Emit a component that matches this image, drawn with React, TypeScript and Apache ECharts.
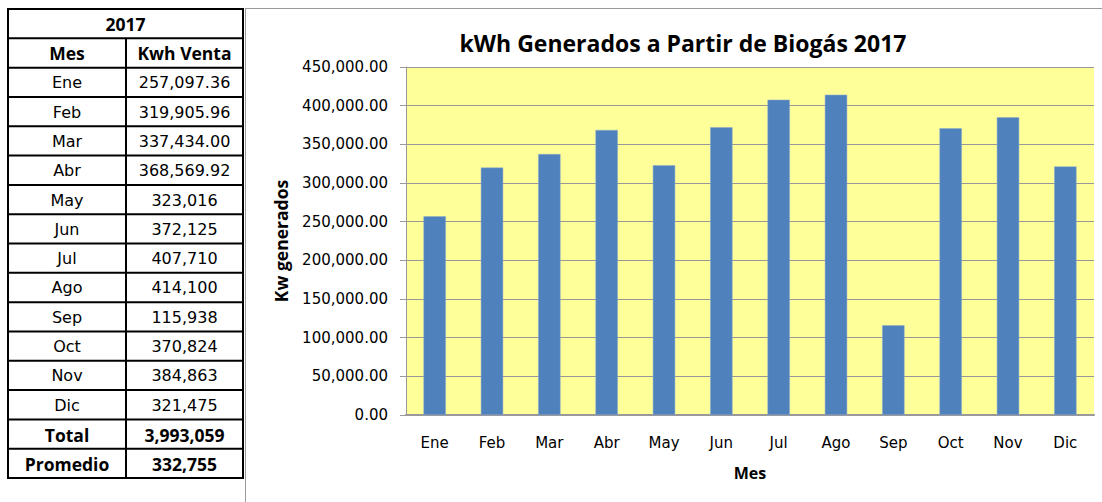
import React, { useEffect, useRef } from "react";
import * as echarts from "echarts";

const months = ["Ene", "Feb", "Mar", "Abr", "May", "Jun", "Jul", "Ago", "Sep", "Oct", "Nov", "Dic"];
const kwhVenta = [257097.36, 319905.96, 337434.0, 368569.92, 323016, 372125, 407710, 414100, 115938, 370824, 384863, 321475];
const tableDecimals = [2, 2, 2, 2, 0, 0, 0, 0, 0, 0, 0, 0];
const tableTotal = 3993059;
const tablePromedio = 332755;
const yearLabel = "2017";
const chartTitle = "kWh Generados a Partir de Biogás 2017";

const fmt = (v: number, d: number) =>
  v.toLocaleString("en-US", { minimumFractionDigits: d, maximumFractionDigits: d });

export default function App() {
  const ref = useRef<HTMLDivElement>(null);
  useEffect(() => {
    document.body.style.margin = "0";
    const chart = echarts.init(ref.current!, null, { renderer: "svg" });

    const tL = 8, tR = 243, tM = 126, tTop = 9, tBot = 478;
    const rowH = (tBot - tTop) / 16;
    const g: any[] = [];
    const lineStyle = { stroke: "#000", lineWidth: 2 };
    for (let i = 0; i <= 16; i++) {
      const y = tTop + i * rowH;
      g.push({ type: "line", shape: { x1: tL, y1: y, x2: tR, y2: y }, style: lineStyle });
    }
    g.push({ type: "line", shape: { x1: tL, y1: tTop - 1, x2: tL, y2: tBot + 1 }, style: lineStyle });
    g.push({ type: "line", shape: { x1: tR, y1: tTop - 1, x2: tR, y2: tBot + 1 }, style: lineStyle });
    g.push({ type: "line", shape: { x1: tM, y1: tTop + rowH, x2: tM, y2: tBot }, style: lineStyle });
    // chart area frame
    g.push({ type: "line", shape: { x1: 245.5, y1: 8, x2: 245.5, y2: 502 }, style: { stroke: "#9a9a9a", lineWidth: 1 } });
    g.push({ type: "line", shape: { x1: 245, y1: 8.5, x2: 1102, y2: 8.5 }, style: { stroke: "#9a9a9a", lineWidth: 1 } });

    const c1 = (tL + tM) / 2, c2 = (tM + tR) / 2;
    const txt = (x: number, row: number, text: string, bold: boolean) => ({
      type: "text",
      x,
      y: tTop + (row + 0.5) * rowH + 0.5,
      style: {
        text,
        align: "center",
        verticalAlign: "middle",
        fill: "#000",
        font: bold ? "bold 17.5px 'Open Sans'" : "16px 'DejaVu Sans'",
      },
    });
    g.push(txt((tL + tR) / 2, 0, yearLabel, true));
    g.push(txt(c1, 1, "Mes", true));
    g.push(txt(c2, 1, "Kwh Venta", true));
    months.forEach((m, i) => {
      g.push(txt(c1, i + 2, m, false));
      g.push(txt(c2, i + 2, fmt(kwhVenta[i], tableDecimals[i]), false));
    });
    g.push(txt(c1, 14, "Total", true));
    g.push(txt(c2, 14, fmt(tableTotal, 0), true));
    g.push(txt(c1, 15, "Promedio", true));
    g.push(txt(c2, 15, fmt(tablePromedio, 0), true));

    chart.setOption({
      animation: false,
      backgroundColor: "#fff",
      title: {
        text: chartTitle,
        left: 678,
        top: 38,
        textAlign: "center",
        textVerticalAlign: "middle",
        textStyle: { fontFamily: "Open Sans", fontWeight: "bold", fontSize: 23, color: "#000" },
      },
      grid: {
        left: 406,
        right: 8,
        top: 67,
        bottom: 87,
        show: true,
        backgroundColor: "#FFFF99",
        borderWidth: 0,
      },
      xAxis: {
        type: "category",
        data: months,
        name: "Mes",
        nameLocation: "middle",
        nameGap: 50,
        nameTextStyle: { fontFamily: "Open Sans", fontWeight: "bold", fontSize: 16, color: "#000" },
        axisLine: { lineStyle: { color: "#999", width: 2 } },
        axisTick: { show: false },
        axisLabel: { fontFamily: "DejaVu Sans", fontSize: 15, color: "#000", margin: 20 },
      },
      yAxis: {
        type: "value",
        min: 0,
        max: 450000,
        interval: 50000,
        name: "Kw generados",
        nameLocation: "middle",
        nameGap: 116,
        nameRotate: 90,
        nameTextStyle: { fontFamily: "Open Sans", fontWeight: "bold", fontSize: 17.5, color: "#000" },
        axisLine: { show: true, lineStyle: { color: "#999", width: 1 } },
        axisTick: { show: true, length: 6, lineStyle: { color: "#999" } },
        splitLine: { lineStyle: { color: "#999", width: 1 } },
        axisLabel: {
          fontFamily: "DejaVu Sans",
          fontSize: 15,
          color: "#000",
          margin: 18,
          formatter: (v: number) => fmt(v, 2),
        },
      },
      series: [
        {
          type: "bar",
          data: kwhVenta,
          barWidth: "39%",
          itemStyle: { color: "#4F81BD", borderColor: "#8FAAD0", borderWidth: 0.5 },
        },
      ],
      graphic: g,
    });
    return () => chart.dispose();
  }, []);
  return <div ref={ref} style={{ width: 1102, height: 502 }} />;
}
